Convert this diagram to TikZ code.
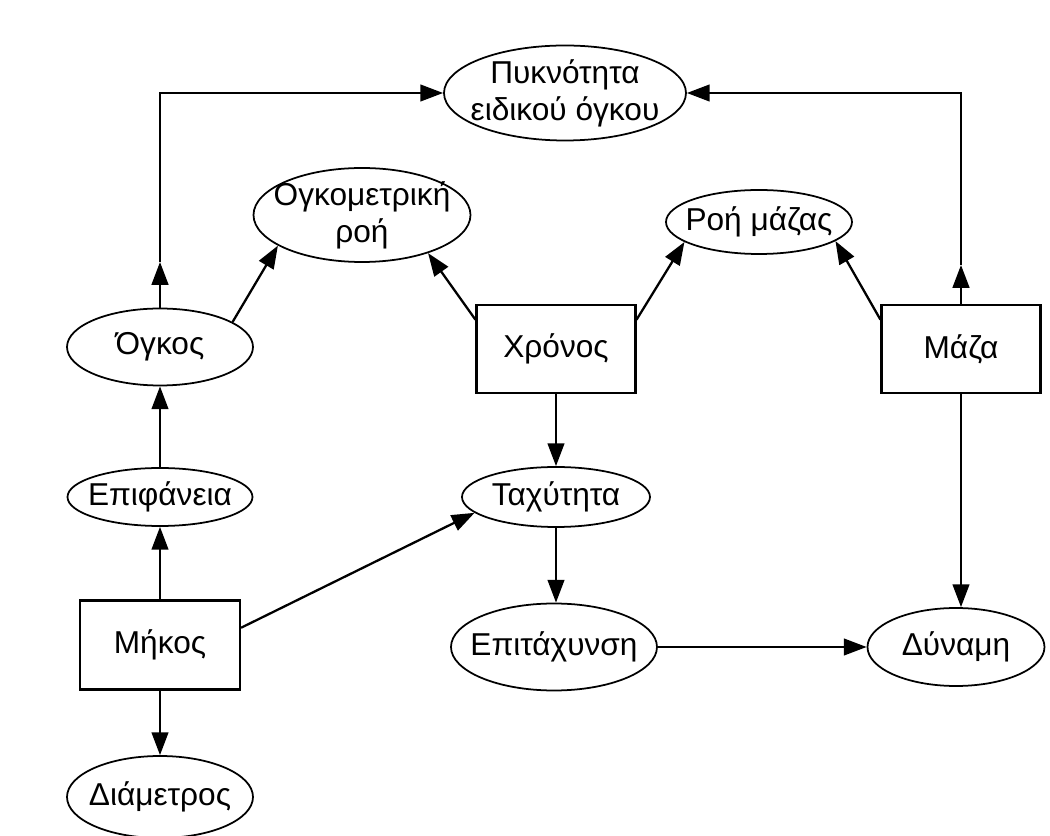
\documentclass[tikz,border=0pt]{standalone}
\usepackage{fontspec}
\setmainfont{Liberation Sans}
\usetikzlibrary{arrows.meta,shapes.geometric}

\begin{document}
\begin{tikzpicture}[font=\fontsize{18}{21}\selectfont,
  oval/.style={ellipse, draw, line width=1pt, inner xsep=-8mm, inner ysep=-4mm, align=center},
  box/.style={rectangle, draw, line width=1.2pt, minimum width=3.18cm, minimum height=1.76cm},
  arr/.style={-{Triangle[length=13pt,width=9.5pt]}, line width=1.3pt}]
\useasboundingbox (0,0) rectangle (21,-16.72);
% quantities
\node[oval, minimum width=4.84cm, minimum height=1.90cm] (pyk) at (11.30,-1.86) {Πυκνότητα\\ειδικού όγκου};
\node[oval, minimum width=4.34cm, minimum height=1.88cm] (ogkom) at (7.24,-4.30) {Ογκομετρική\\ροή};
\node[oval, minimum width=3.72cm, minimum height=1.28cm] (roh) at (15.18,-4.44) {Ροή μάζας};
\node[oval, minimum width=3.72cm, minimum height=1.54cm] (ogkos) at (3.20,-6.94) {Όγκος};
\node[box] (xronos) at (11.12,-6.98) {Χρόνος};
\node[box] (maza) at (19.22,-6.98) {Μάζα};
\node[oval, minimum width=3.70cm, minimum height=1.16cm] (epif) at (3.20,-9.94) {Επιφάνεια};
\node[oval, minimum width=3.76cm, minimum height=1.20cm] (tax) at (11.12,-9.94) {Ταχύτητα};
\node[box, minimum width=3.20cm, minimum height=1.78cm] (mikos) at (3.20,-12.90) {Μήκος};
\node[oval, minimum width=4.12cm, minimum height=1.74cm] (epit) at (11.08,-12.94) {Επιτάχυνση};
\node[oval, minimum width=3.54cm, minimum height=1.56cm] (dyn) at (19.12,-12.94) {Δύναμη};
\node[oval, minimum width=3.72cm, minimum height=1.64cm] (diam) at (3.20,-15.94) {Διάμετρος};
% bends of the long connectors
\coordinate (ogkosup) at (3.20,-5.24);
\coordinate (mazaup) at (19.22,-5.30);
% connectors
\draw[arr] (ogkos) -- (ogkosup);
\draw[arr] (ogkosup) |- (pyk);
\draw[arr] (maza) -- (mazaup);
\draw[arr] (mazaup) |- (pyk);
\draw[arr] (ogkos.19) -- (ogkom.200);
\draw[arr] (xronos.160) -- (ogkom.330);
\draw[arr] (xronos.20) -- (roh.195);
\draw[arr] (maza.160) -- (roh.346);
\draw[arr] (xronos) -- (tax);
\draw[arr] (epif) -- (ogkos);
\draw[arr] (mikos) -- (epif);
\draw[arr] (mikos.12) -- (tax.191);
\draw[arr] (mikos) -- (diam);
\draw[arr] (tax) -- (tax |- epit.north);
\draw[arr] (epit) -- (dyn);
\draw[arr] (maza) -- (maza |- dyn.north);
\end{tikzpicture}
\end{document}
